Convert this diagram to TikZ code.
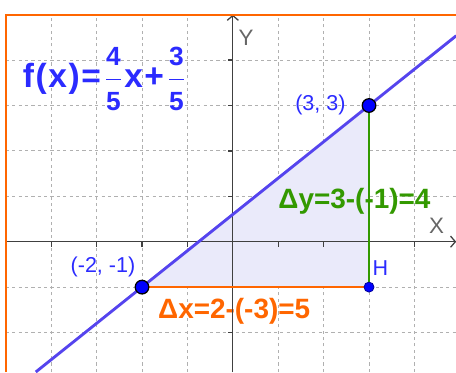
\documentclass[tikz,border=0pt]{standalone}
\usepackage{fontspec}
\setmainfont{Liberation Sans}
\usepackage{amsmath}
\usetikzlibrary{arrows.meta, positioning}
\definecolor{GeoBlue}{HTML}{2B2BFF}
\definecolor{GeoLine}{HTML}{5544EE}
\definecolor{GeoOrange}{HTML}{FF6600}
\definecolor{GeoGreen}{HTML}{339900}
\definecolor{GeoFill}{HTML}{EAEAFA}
\definecolor{GeoAxis}{HTML}{404040}
\definecolor{GeoGrid}{HTML}{B0B0B0}
\newcommand{\fracnum}[2]{$\dfrac{\text{\fontsize{16.5}{16}\selectfont #1}\rule[-3pt]{0pt}{3pt}}{\rule{0pt}{16.5pt}\text{\fontsize{16.5}{16}\selectfont #2}}$}

\begin{document}
\begin{tikzpicture}[
  gridline/.style={GeoGrid, line width=0.6pt, dash pattern=on 2pt off 2pt},
  axis/.style={GeoAxis, line width=0.8pt, -{Straight Barb[length=3pt, width=7pt]}},
  tick/.style={GeoAxis, line width=0.8pt},
  frameline/.style={GeoOrange, line width=1.3pt},
  fline/.style={GeoLine, line width=1.8pt},
  dxline/.style={GeoOrange, line width=1pt},
  dyline/.style={GeoGreen, line width=1pt},
  pt/.style={circle, fill=blue, draw=black, line width=0.8pt, inner sep=0pt, minimum size=0.3cm},
  hpt/.style={circle, fill=blue, draw=blue!60!black, line width=0.5pt, inner sep=0pt, minimum size=0.22cm},
  coordlbl/.style={text=GeoBlue, font=\fontsize{13.5}{15}\selectfont},
  axislbl/.style={text=GeoAxis!80, font=\fontsize{14}{16}\selectfont},
  dxlbl/.style={text=GeoOrange, font=\fontsize{17.5}{20}\selectfont\bfseries},
  dylbl/.style={text=GeoGreen, font=\fontsize{17.5}{20}\selectfont\bfseries},
  fxlbl/.style={text=GeoBlue, font=\fontsize{21}{24}\selectfont\bfseries}
]
\useasboundingbox (-5.128,-2.87) rectangle (4.916,5.324);
\draw[gridline] (-5,-2.87) grid (4.916,5);

\coordinate (A) at (-2,-1);
\coordinate (B) at (3,3);
\coordinate (H) at (3,-1);
\fill[GeoFill] (A) -- (B) -- (H) -- cycle;

\node[fxlbl]    (fx)   at (-2.83,3.59) {f\kern1pt(\kern1pt x\kern1pt)\kern1pt=\kern2pt\fracnum{4}{5}\kern1pt x\kern1pt+\kern2pt\fracnum{3}{5}};
\node[dylbl]    (dy)   at (2.68,0.89)  {Δy=3-(-1)=4};
\node[dxlbl]    (dx)   at (0.03,-1.54) {Δx=2-(-3)=5};
\node[coordlbl] (lblB) at (1.93,3.02)  {(3, 3)};
\node[coordlbl] (lblA) at (-2.86,-0.56) {(-2, -1)};
\node[coordlbl] (lblH) at (3.25,-0.59) {H};
\node[axislbl]  (lblY) at (0.29,4.48)  {Y};
\node[axislbl]  (lblX) at (4.49,0.34)  {X};

\coordinate (xL) at (-5,0);
\coordinate (xR) at (4.92,0);
\coordinate (yB) at (0,-2.87);
\coordinate (yT) at (0,5);
\draw[axis] (xL) -- (xR);
\draw[axis] (yB) -- (yT);
\foreach \x in {-4,-3,-2,-1,1,2,3,4}
  \draw[tick] (\x,0) -- (\x,-0.11);
\foreach \y in {-2,-1,1,2,3,4}
  \draw[tick] (0,\y) -- (-0.11,\y);

\draw[frameline] (-5,-2.87) -- (-5,5) -- (4.916,5);

\draw[dxline] (A) -- (H);
\draw[dyline] (H) -- (B);

\coordinate (fL) at (-4.34,-2.87);
\coordinate (fR) at (4.92,4.536);
\draw[fline] (fL) -- (fR);

\node[pt]  (dotA) at (A) {};
\node[pt]  (dotB) at (B) {};
\node[hpt] (dotH) at (H) {};
\end{tikzpicture}
\end{document}
